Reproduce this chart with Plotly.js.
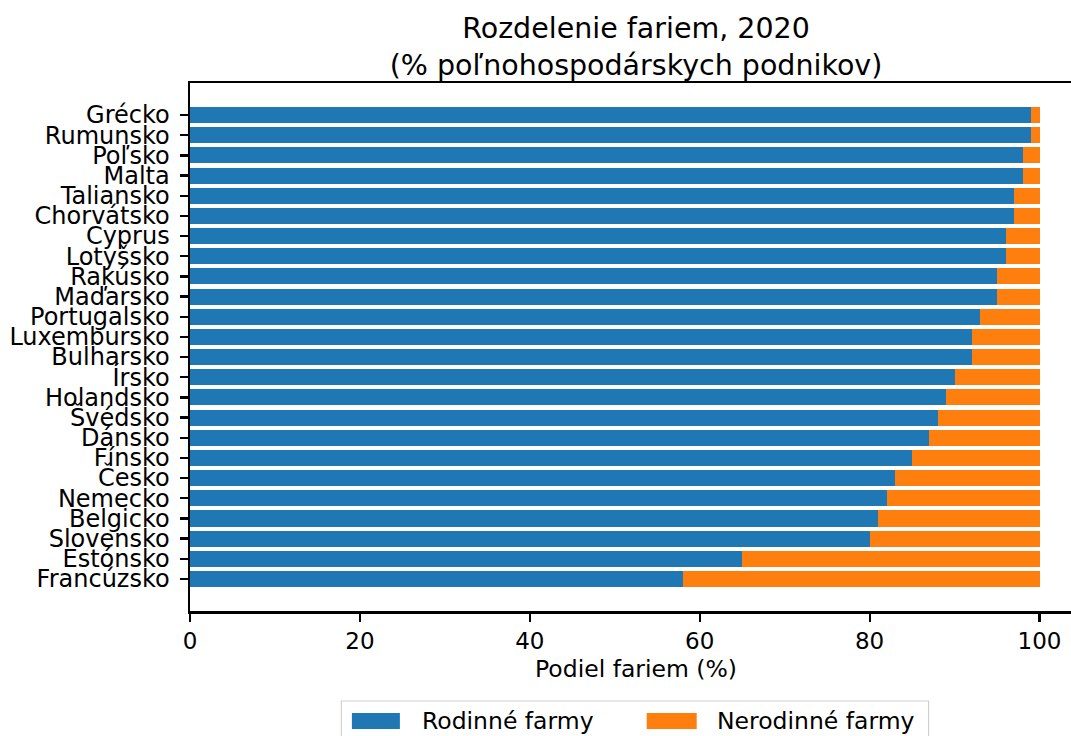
<!DOCTYPE html>
<html>
<head>
<meta charset="utf-8">
<script src="https://cdn.plot.ly/plotly-3.0.1.min.js"></script>
<style>
html, body { margin: 0; padding: 0; overflow: hidden; background: #fff; }
#chart { width: 1100px; height: 736px; }
</style>
</head>
<body>
<div id="chart"></div>
<script>
// ---- data (top-to-bottom order as shown) ----
const countries = ["Grécko", "Rumunsko", "Poľsko", "Malta", "Taliansko", "Chorvátsko", "Cyprus", "Lotyšsko",
  "Rakúsko", "Maďarsko", "Portugalsko", "Luxembursko", "Bulharsko", "Írsko", "Holandsko", "Švédsko",
  "Dánsko", "Fínsko", "Česko", "Nemecko", "Belgicko", "Slovensko", "Estónsko", "Francúzsko"];
const familyFarms = [99, 99, 98, 98, 97, 97, 96, 96, 95, 95, 93, 92, 92, 90, 89, 88, 87, 85, 83, 82, 81, 80, 65, 58];
const nonFamilyFarms = [1, 1, 2, 2, 3, 3, 4, 4, 5, 5, 7, 8, 8, 10, 11, 12, 13, 15, 17, 18, 19, 20, 35, 42];
const seriesNames = ["Rodinné farmy", "Nerodinné farmy"];
const xTicks = [0, 20, 40, 60, 80, 100];
const chartTitle = "Rozdelenie fariem, 2020<br>(% poľnohospodárskych podnikov)";
const xTitle = "Podiel fariem (%)";

// ---- layout geometry (pixels) ----
const FONT = "DejaVu Sans, sans-serif";
const L = 190, T = 83, B = 611, W = 892.5, FIGW = 1100, FIGH = 736;
const H = B - T;
const px = p => (p - L) / W;
const py = p => (B - p) / H;
const colors = ["#1f77b4", "#ff7f0e"];

const traces = [
  { type: "bar", orientation: "h", y: countries, x: familyFarms, name: seriesNames[0],
    marker: { color: colors[0], line: { width: 0 } }, showlegend: false },
  { type: "bar", orientation: "h", y: countries, x: nonFamilyFarms, name: seriesNames[1],
    marker: { color: colors[1], line: { width: 0 } }, showlegend: false }
];

const n = countries.length;
const pad = 0.05 * (n - 1 + 0.8);

// custom legend in matplotlib style
const shapes = [
  { type: "rect", xref: "paper", yref: "paper", x0: px(341.5), x1: px(929), y0: py(701), y1: py(760),
    line: { color: "#d0d0d0", width: 1.2 }, fillcolor: "rgba(255,255,255,0.8)", layer: "above" },
  { type: "rect", xref: "paper", yref: "paper", x0: px(352), x1: px(400), y0: py(713), y1: py(729),
    line: { width: 0 }, fillcolor: colors[0], layer: "above" },
  { type: "rect", xref: "paper", yref: "paper", x0: px(647), x1: px(697), y0: py(713), y1: py(729),
    line: { width: 0 }, fillcolor: colors[1], layer: "above" }
];
const annotations = [
  { xref: "paper", yref: "paper", x: px(420), y: py(721), xanchor: "left", yanchor: "middle",
    text: seriesNames[0], showarrow: false, font: { family: FONT, size: 23.5, color: "#000" } },
  { xref: "paper", yref: "paper", x: px(715), y: py(721), xanchor: "left", yanchor: "middle",
    text: seriesNames[1], showarrow: false, font: { family: FONT, size: 23.5, color: "#000" } }
];

const layout = {
  width: FIGW, height: FIGH,
  margin: { l: L, r: FIGW - L - W, t: T, b: FIGH - B, pad: 0 },
  paper_bgcolor: "#fff", plot_bgcolor: "#fff",
  barmode: "stack", bargap: 0.2,
  font: { family: FONT, color: "#000", size: 23 },
  title: { text: chartTitle, font: { family: FONT, size: 28.5, color: "#000" },
    x: 0.5, xref: "paper", xanchor: "center", y: 1 - 38 / FIGH, yref: "container", yanchor: "top" },
  xaxis: {
    range: [0, 105], tickmode: "array", tickvals: xTicks, ticktext: xTicks.map(String),
    showgrid: false, zeroline: false, showline: true, linecolor: "#000", linewidth: 2.5, mirror: true,
    ticks: "outside", ticklen: 8, tickwidth: 2.2, tickcolor: "#000",
    tickfont: { family: FONT, size: 23, color: "#000" },
    title: { text: xTitle, font: { family: FONT, size: 23.5, color: "#000" }, standoff: 8 }
  },
  yaxis: {
    type: "category", categoryorder: "array", categoryarray: countries,
    tickmode: "array", tickvals: countries, ticktext: countries,
    range: [n - 1 + pad + 0.4, -pad - 0.4],
    showgrid: false, zeroline: false, showline: true, linecolor: "#000", linewidth: 2.5, mirror: true,
    ticks: "outside", ticklen: 8, tickwidth: 2.2, tickcolor: "#000", ticklabelstandoff: 5,
    tickfont: { family: FONT, size: 24, color: "#000" }
  },
  shapes: shapes,
  annotations: annotations
};

Plotly.newPlot("chart", traces, layout, { staticPlot: true, displayModeBar: false });
</script>
</body>
</html>
